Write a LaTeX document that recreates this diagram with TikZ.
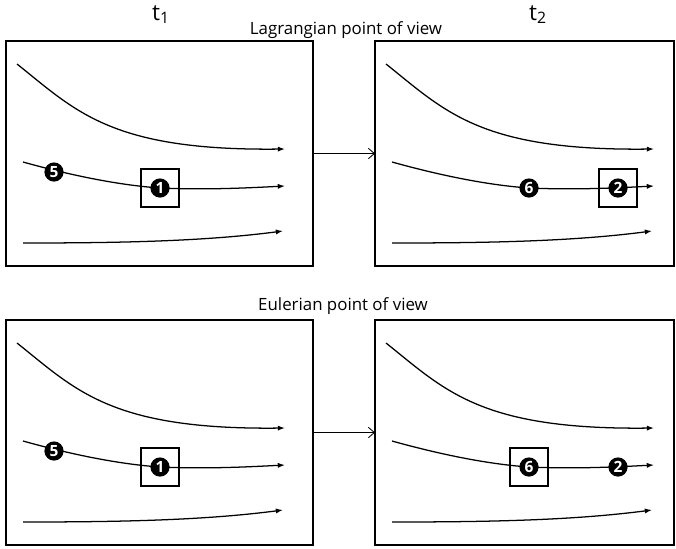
\documentclass[tikz,border=0pt]{standalone}
\usepackage{fontspec}
\setmainfont{Open Sans}
\usepackage{tikz}
\usetikzlibrary{arrows.meta,positioning}
\tikzset{
  panel/.style={draw,line width=1.5pt,minimum height=5.625cm,outer sep=0pt,anchor=north west},
  stream/.style={-{Latex[length=1.8mm,width=1.3mm]},line width=0.9pt},
  link/.style={-{Straight Barb[length=1.5mm,width=2.6mm]},line width=0.6pt},
  parcel/.style={circle,fill=black,text=white,inner sep=0pt,minimum size=0.48cm,font=\bfseries\fontsize{11}{11}\selectfont},
  probe/.style={draw,line width=1pt,minimum size=0.95cm,inner sep=0pt},
  heading/.style={font=\fontsize{12}{14}\selectfont,inner sep=0pt,anchor=base},
  timemark/.style={font=\fontsize{16}{18}\selectfont,inner sep=0pt,anchor=base}
}

\begin{document}
\begin{tikzpicture}[x=0.025cm,y=-0.025cm]
\useasboundingbox (0,0) rectangle (676,548);
\def\flow{%
  \draw[stream] (11,23) .. controls (70,70) and (105,110) .. (279,108);
  \draw[stream] (17,121) .. controls (60,133) and (110,144) .. (154,147) .. controls (200,149) and (240,147) .. (279,145);
  \draw[stream] (17,202) .. controls (120,202) and (200,200) .. (277,190);
}
% panels
\node[panel,minimum width=7.675cm] (lagA) at (6,41) {};
\node[panel,minimum width=7.475cm] (lagB) at (375,41) {};
\node[panel,minimum width=7.675cm] (eulA) at (6,320) {};
\node[panel,minimum width=7.475cm] (eulB) at (375,320) {};
\draw[link] (lagA) -- (lagB);
\draw[link] (eulA) -- (eulB);
% texts
\node[timemark] (tA) at (161,20) {t\textsubscript{1}};
\node[timemark] (tB) at (538,20) {t\textsubscript{2}};
\node[heading] (lagTitle) at (346,34) {Lagrangian point of view};
\node[heading] (eulTitle) at (343,310) {Eulerian point of view};
% Lagrangian, t1 and t2
\begin{scope}[shift={(6,41)}]
  \flow
  \node[parcel] (lagA5) at (48,131) {5};
  \node[parcel] (lagA1) at (154,147) {1};
  \node[probe] (lagAbox) at (lagA1) {};
\end{scope}
\begin{scope}[shift={(375,41)}]
  \flow
  \node[parcel] (lagB6) at (154,147) {6};
  \node[parcel] (lagB2) at (243,147) {2};
  \node[probe] (lagBbox) at (lagB2) {};
\end{scope}
% Eulerian, t1 and t2
\begin{scope}[shift={(6,320)}]
  \flow
  \node[parcel] (eulA5) at (48,131) {5};
  \node[parcel] (eulA1) at (154,147) {1};
  \node[probe] (eulAbox) at (eulA1) {};
\end{scope}
\begin{scope}[shift={(375,320)}]
  \flow
  \node[parcel] (eulB6) at (154,147) {6};
  \node[parcel] (eulB2) at (243,147) {2};
  \node[probe] (eulBbox) at (eulB6) {};
\end{scope}
\end{tikzpicture}
\end{document}
